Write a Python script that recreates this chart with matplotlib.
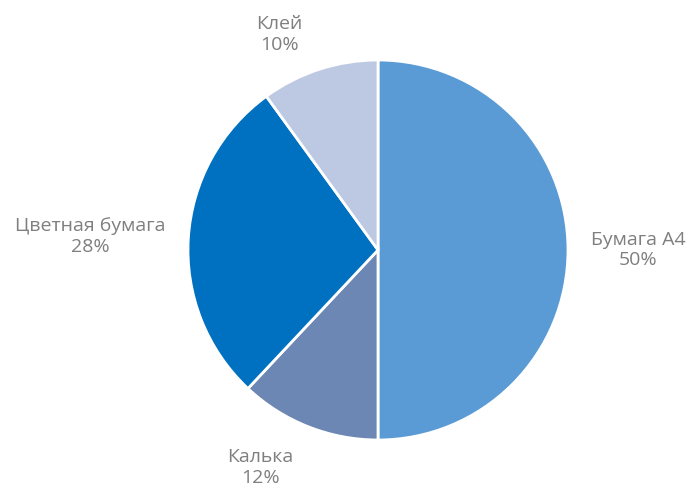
import matplotlib.pyplot as plt

# Данные диаграммы
labels = ['Бумага А4', 'Калька', 'Цветная бумага', 'Клей']
shares = [50, 12, 28, 10]
colors = ['#5b9bd5', '#6d87b4', '#0070c0', '#bdc9e2']

plt.rcParams['font.family'] = ['Open Sans', 'DejaVu Sans']

fig = plt.figure(figsize=(6.92, 4.88), dpi=100)
W, H = 692, 488
cx, cy, r = 378, 250, 190
ax = fig.add_axes([(cx - r) / W, (H - cy - r) / H, 2 * r / W, 2 * r / H])

wedges, texts = ax.pie(
    shares,
    labels=[f'{l}\n{s}%' for l, s in zip(labels, shares)],
    colors=colors,
    startangle=90,
    counterclock=False,
    labeldistance=1.12,
    wedgeprops=dict(edgecolor='white', linewidth=2),
    textprops=dict(color='#7f7f7f', fontsize=14, multialignment='center',
                   linespacing=1.2),
)

for t in texts:
    x, y = t.get_position()
    if abs(y) > 0.8:
        t.set_va('bottom' if y > 0 else 'top')
        t.set_ha('center')
        t.set_position((x * 1.5, 1.03 if y > 0 else y))

ax.set_xlim(-1, 1)
ax.set_ylim(-1, 1)
ax.set_aspect('equal')

fig.savefig('out.png', dpi=100)
